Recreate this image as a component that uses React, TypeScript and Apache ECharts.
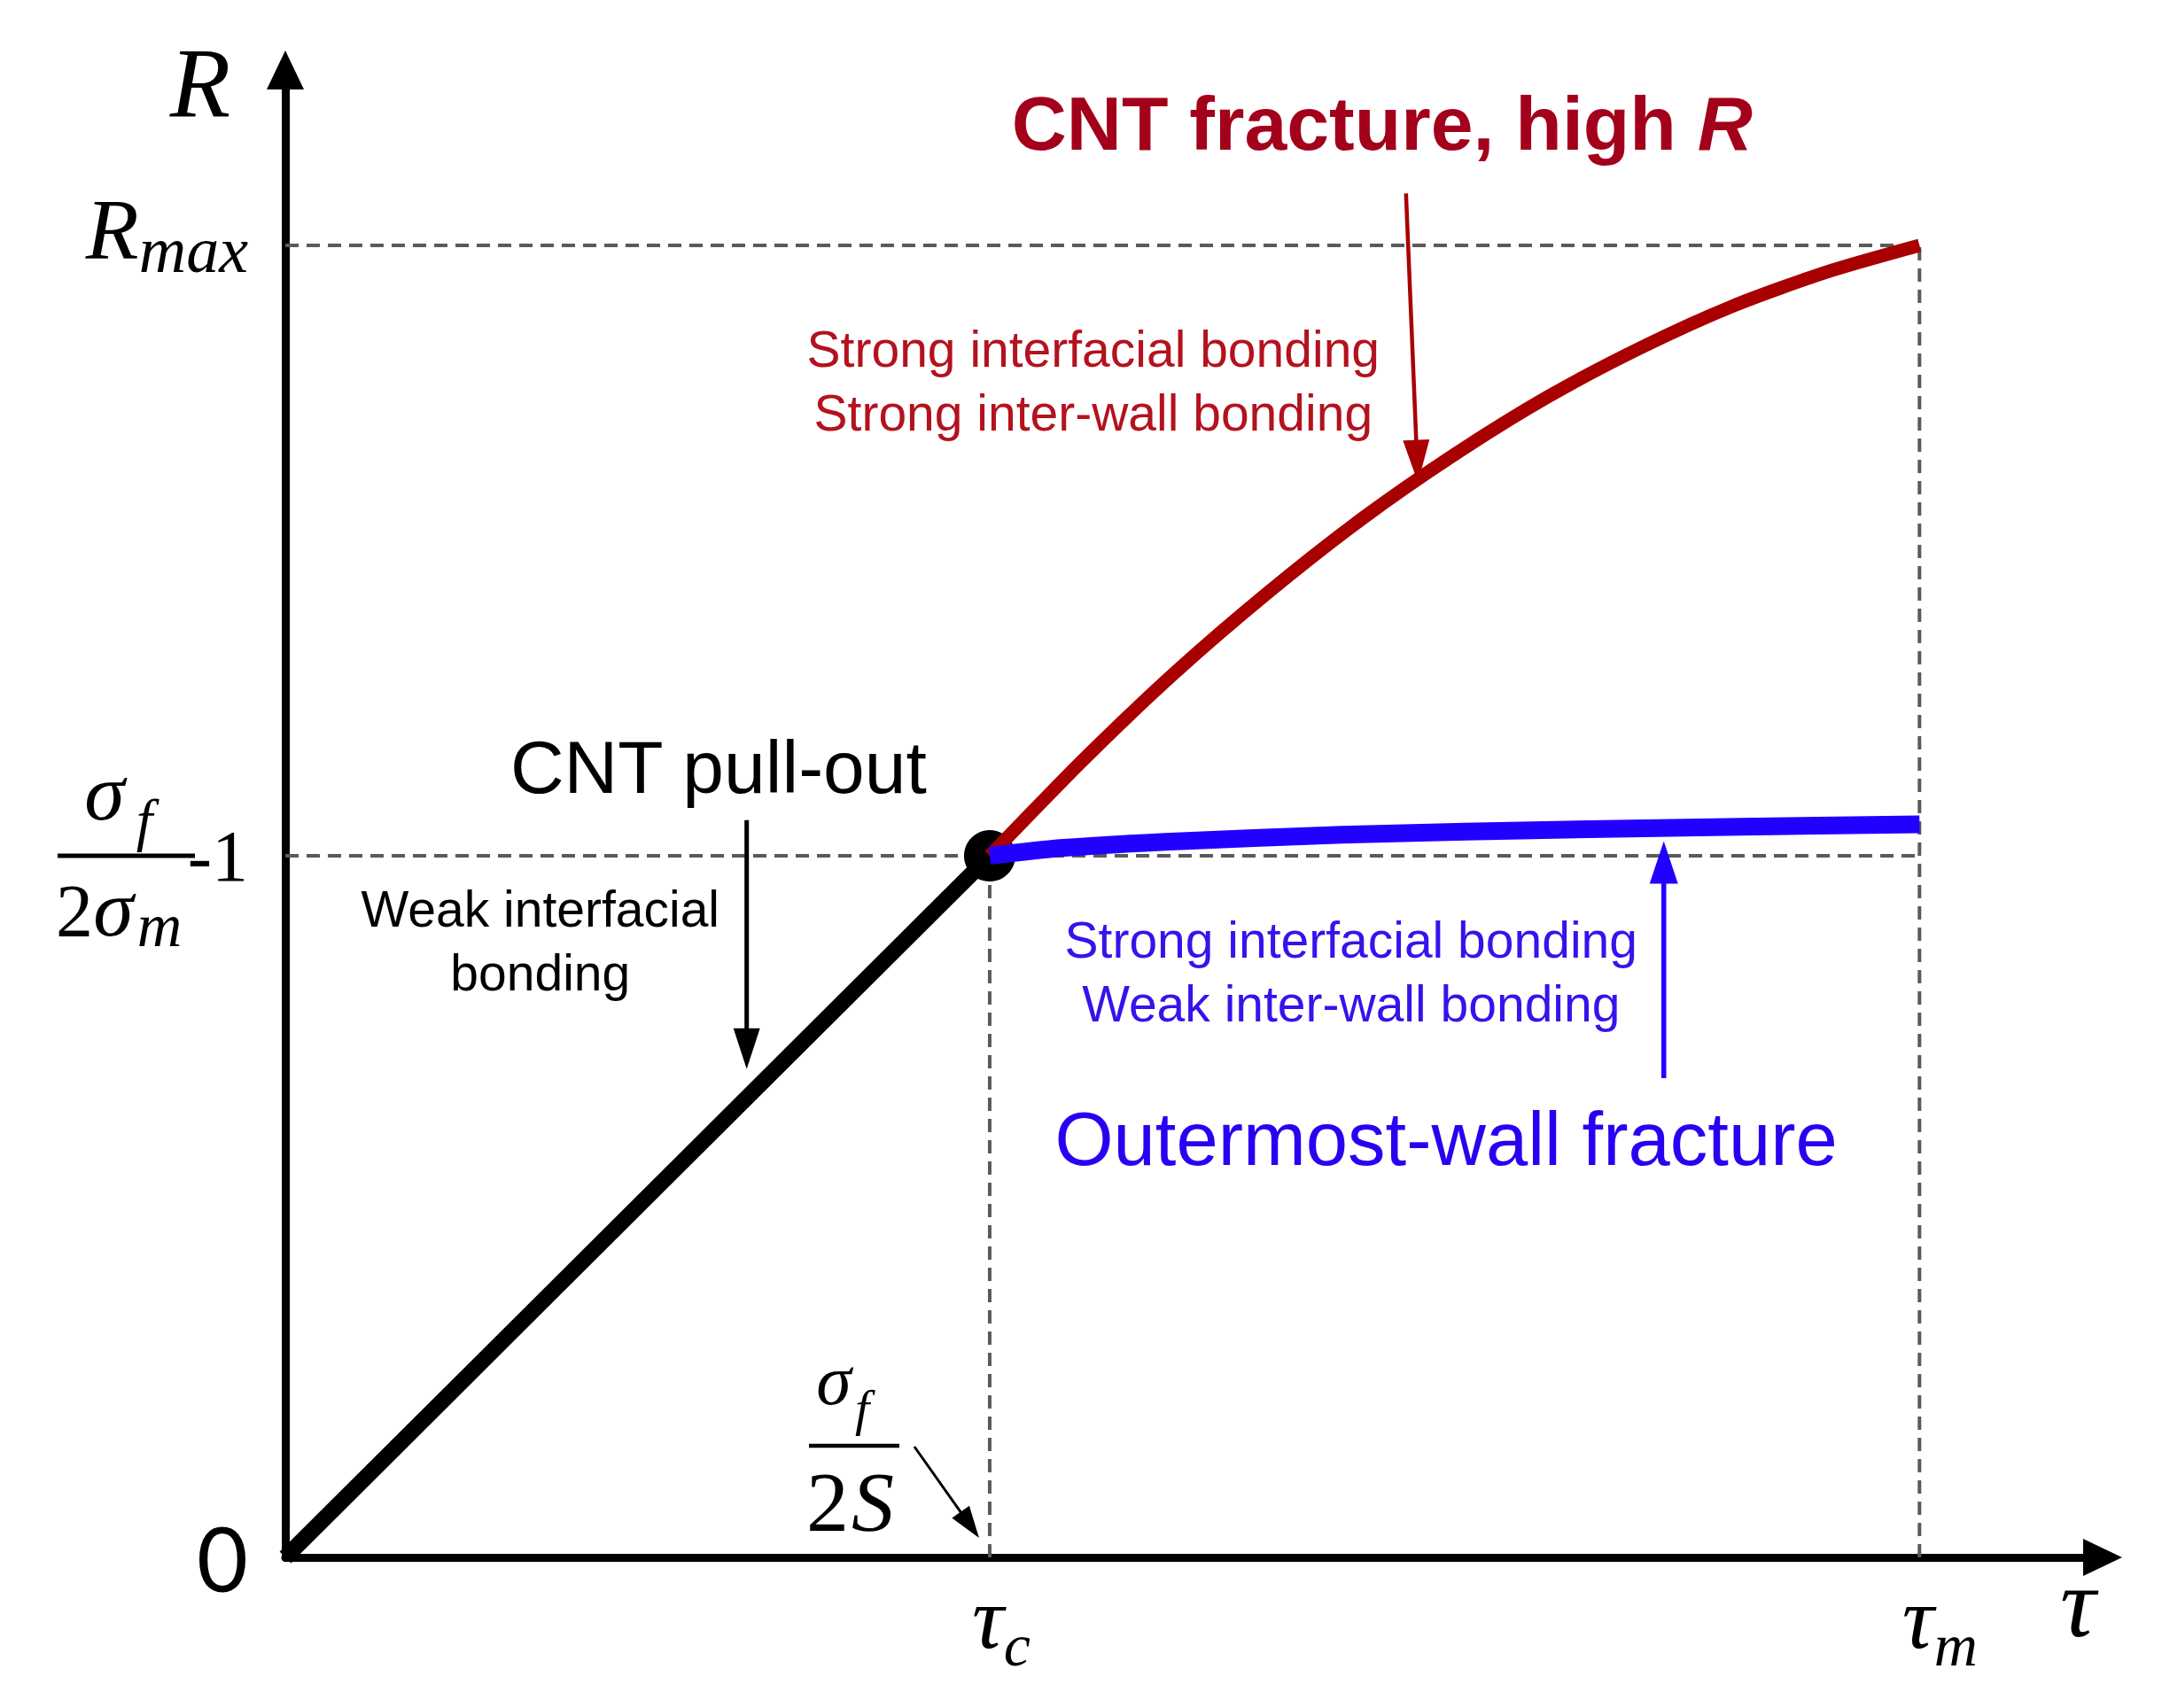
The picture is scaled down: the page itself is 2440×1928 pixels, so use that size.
import React, { useEffect, useRef } from "react";
import * as echarts from "echarts";

// ---- Key values (axis units: tau scaled so tau_c = 1, R scaled so sigma_f/2sigma_m - 1 = 1)
const TAU_C = 1;
const TAU_M = 2.32;
const R_MID = 1;
const R_MAX = 1.87;
const X_END = 2.58;
const Y_END = 2.12;

// ---- Curves
const pulloutTau = [0, 1];
const pulloutR = [0, 1];

const fractureTau = [1, 1.132, 1.264, 1.396, 1.528, 1.66, 1.792, 1.924, 2.056, 2.188, 2.32];
const fractureR = [1, 1.136, 1.262, 1.376, 1.48, 1.572, 1.654, 1.724, 1.784, 1.832, 1.87];

const outerTau = [1, 1.1, 1.25, 1.5, 1.85, 2.32];
const outerR = [1, 1.011, 1.02, 1.03, 1.038, 1.045];

// ---- Tick labels
const xTickValues = [TAU_C, TAU_M];
const xTickSubs = ["c", "m"];
const yTickValues = [0, R_MID, R_MAX];

const zip = (xs: number[], ys: number[]) => xs.map((x, i) => [x, ys[i]]);

const SERIF = '"Liberation Serif", "DejaVu Serif", serif';
const SANS = '"Liberation Sans", Arial, sans-serif';

export default function App() {
  const ref = useRef<HTMLDivElement>(null);

  useEffect(() => {
    document.body.style.margin = "0";
    const chart = echarts.init(ref.current!, null, { renderer: "svg" });
    const dash = { color: "#5a5a5a", width: 4, type: [15, 9] as any };
    const guide = (name: string, pts: number[][]) => ({
      type: "line",
      name,
      data: pts,
      showSymbol: false,
      symbol: "none",
      lineStyle: dash,
      silent: true,
      clip: false,
      z: 1,
    });

    chart.setOption({
      animation: false,
      backgroundColor: "#ffffff",
      grid: { left: 322, right: 67, top: 79, bottom: 170, containLabel: false, outerBoundsMode: "none" },
      xAxis: {
        type: "value",
        min: 0,
        max: X_END,
        splitLine: { show: false },
        axisTick: { show: false },
        axisLine: {
          show: true,
          lineStyle: { color: "#000", width: 9 },
          symbol: ["none", "triangle"],
          symbolSize: [42, 44],
        },
        axisLabel: {
          show: true,
          customValues: xTickValues,
          margin: 68,
          verticalAlign: "middle",
          formatter: (v: number) => {
            const i = xTickValues.findIndex((t) => Math.abs(t - v) < 1e-6);
            if (i < 0) return "";
            return `{t${i}|τ}{s|${xTickSubs[i]}}`;
          },
          rich: {
            t0: { fontFamily: SERIF, fontStyle: "italic", fontSize: 100, color: "#000", padding: [0, 0, 0, 26] },
            t1: { fontFamily: SERIF, fontStyle: "italic", fontSize: 100, color: "#000", padding: [0, 0, 0, 46] },
            s: { fontFamily: SERIF, fontStyle: "italic", fontSize: 68, color: "#000", padding: [62, 0, 0, 0] },
          },
        },
      },
      yAxis: {
        type: "value",
        min: 0,
        max: Y_END,
        splitLine: { show: false },
        axisTick: { show: false },
        axisLine: {
          show: true,
          lineStyle: { color: "#000", width: 9 },
          symbol: ["none", "triangle"],
          symbolSize: [42, 44],
        },
        axisLabel: {
          show: true,
          customValues: yTickValues,
          margin: 42,
          formatter: (v: number) => {
            if (Math.abs(v) < 1e-6) return "{z|0}";
            if (Math.abs(v - R_MID) < 1e-6) return "{n|-1}";
            if (Math.abs(v - R_MAX) < 1e-6) return "{R|R}{sub|max}";
            return "";
          },
          rich: {
            z: { fontFamily: "Lato, 'Open Sans', sans-serif", fontSize: 100, color: "#000" },
            n: { fontFamily: SERIF, fontSize: 82, color: "#000" },
            R: { fontFamily: SERIF, fontStyle: "italic", fontSize: 98, color: "#000", padding: [0, 0, 36, 0] },
            sub: { fontFamily: SERIF, fontStyle: "italic", fontSize: 74, color: "#000", padding: [10, 0, 0, 0] },
          },
        },
      },
      series: [
        guide("Rmax guide", [[0, R_MAX], [TAU_M, R_MAX]]),
        guide("mid guide", [[0, R_MID], [TAU_M, R_MID]]),
        guide("tau_c guide", [[TAU_C, 0], [TAU_C, R_MID]]),
        guide("tau_m guide", [[TAU_M, 0], [TAU_M, R_MAX]]),
        {
          type: "line",
          name: "CNT pull-out",
          data: zip(pulloutTau, pulloutR),
          showSymbol: false,
          symbol: "none",
          lineStyle: { color: "#000", width: 18 },
          silent: true,
          clip: false,
          z: 3,
        },
        {
          type: "scatter",
          name: "transition",
          data: [[TAU_C, R_MID]],
          symbol: "circle",
          symbolSize: 58,
          itemStyle: { color: "#000", opacity: 1 },
          silent: true,
          z: 4,
        },
        {
          type: "line",
          name: "CNT fracture",
          data: zip(fractureTau, fractureR),
          smooth: 0.25,
          showSymbol: false,
          symbol: "none",
          lineStyle: { color: "#a80000", width: 15 },
          silent: true,
          clip: false,
          z: 5,
        },
        {
          type: "line",
          name: "Outermost-wall fracture",
          data: zip(outerTau, outerR),
          smooth: 0.25,
          showSymbol: false,
          symbol: "none",
          lineStyle: { color: "#2200ff", width: 20 },
          silent: true,
          clip: false,
          z: 5,
        },
      ],
    });

    const P = (x: number, y: number) => chart.convertToPixel({ gridIndex: 0 }, [x, y]) as number[];

    const txt = (x: number, y: number, text: string, st: any) => ({
      type: "text",
      x,
      y,
      silent: true,
      z: 100,
      style: {
        text,
        align: "center",
        verticalAlign: "middle",
        textAlign: "center",
        textVerticalAlign: "middle",
        fill: "#000",
        ...st,
      },
    });

    const arrow = (from: number[], to: number[], color: string, width: number, headW: number, headL: number) => {
      const dx = to[0] - from[0];
      const dy = to[1] - from[1];
      const len = Math.hypot(dx, dy);
      const ux = dx / len;
      const uy = dy / len;
      const bx = to[0] - ux * headL;
      const by = to[1] - uy * headL;
      const nx = -uy;
      const ny = ux;
      return [
        {
          type: "line",
          silent: true,
          z: 50,
          shape: { x1: from[0], y1: from[1], x2: bx + ux * 2, y2: by + uy * 2 },
          style: { stroke: color, lineWidth: width },
        },
        {
          type: "polygon",
          silent: true,
          z: 50,
          shape: {
            points: [
              [to[0], to[1]],
              [bx + (nx * headW) / 2, by + (ny * headW) / 2],
              [bx - (nx * headW) / 2, by - (ny * headW) / 2],
            ],
          },
          style: { fill: color },
        },
      ];
    };

    const serifI = (size: number) => ({ fontFamily: SERIF, fontStyle: "italic", fontSize: size });
    const serif = (size: number) => ({ fontFamily: SERIF, fontSize: size });

    const A = P(0, R_MID); // y fraction anchor
    const B = P(TAU_C, 0); // sigma_f / 2S anchor
    const top = P(0, Y_END);
    const right = P(X_END, 0);

    const pTitle = P(1.557, 2.044);
    const pRedSmall = P(1.147, 1.677);
    const pPull = P(0.615, 1.126);
    const pWeak = P(0.362, 0.879);
    const pBlueSmall = P(1.513, 0.835);
    const pOuter = P(1.648, 0.596);

    const graphic: any[] = [
      // axis names
      txt(top[0] - 96, top[1] + 14, "R", serifI(112)),
      txt(right[0] - 28, right[1] + 51, "τ", serifI(112)),
      // y fraction  sigma_f / 2 sigma_m
      txt(A[0] - 204, A[1] - 72, "σ", serifI(92)),
      txt(A[0] - 159, A[1] - 41, "f", serifI(66)),
      {
        type: "line",
        silent: true,
        z: 100,
        shape: { x1: A[0] - 257, y1: A[1], x2: A[0] - 102, y2: A[1] },
        style: { stroke: "#000", lineWidth: 5 },
      },
      txt(A[0] - 238, A[1] + 62, "2", serif(84)),
      txt(A[0] - 194, A[1] + 59, "σ", serifI(92)),
      txt(A[0] - 142, A[1] + 78, "m", serifI(70)),
      // sigma_f / 2S
      txt(B[0] - 176, B[1] - 200, "σ", serifI(80)),
      txt(B[0] - 144, B[1] - 169, "f", serifI(58)),
      {
        type: "line",
        silent: true,
        z: 100,
        shape: { x1: B[0] - 204, y1: B[1] - 126, x2: B[0] - 102, y2: B[1] - 126 },
        style: { stroke: "#000", lineWidth: 4.5 },
      },
      txt(B[0] - 183, B[1] - 63, "2", serif(96)),
      txt(B[0] - 132, B[1] - 63, "S", serifI(96)),
      ...arrow([B[0] - 85, B[1] - 125], [B[0] - 12, B[1] - 22], "#000", 3, 24, 36),
      // annotations
      {
        type: "text",
        x: pTitle[0],
        y: pTitle[1],
        silent: true,
        z: 100,
        style: {
          text: "{a|CNT fracture, high }{b|R}",
          align: "center",
          verticalAlign: "middle",
          textAlign: "center",
          textVerticalAlign: "middle",
          rich: {
            a: { fontFamily: SANS, fontWeight: "bold", fontSize: 86, fill: "#a3001b", color: "#a3001b" },
            b: { fontFamily: SANS, fontWeight: "bold", fontStyle: "italic", fontSize: 86, fill: "#a3001b", color: "#a3001b" },
          },
        },
      },
      txt(pRedSmall[0], pRedSmall[1], "Strong interfacial bonding\nStrong inter-wall bonding", {
        fontFamily: SANS,
        fontSize: 57,
        lineHeight: 72,
        fill: "#b3121e",
      }),
      ...arrow(P(1.591, 1.944), P(1.608, 1.532), "#a80000", 4.5, 30, 48),
      txt(pPull[0], pPull[1], "CNT pull-out", { fontFamily: SANS, fontSize: 84, fill: "#000" }),
      txt(pWeak[0], pWeak[1], "Weak interfacial\nbonding", {
        fontFamily: SANS,
        fontSize: 57,
        lineHeight: 72,
        fill: "#000",
      }),
      ...arrow(P(0.655, 1.051), P(0.655, 0.696), "#000", 5, 30, 46),
      txt(pBlueSmall[0], pBlueSmall[1], "Strong interfacial bonding\nWeak inter-wall bonding", {
        fontFamily: SANS,
        fontSize: 57,
        lineHeight: 72,
        fill: "#3414ec",
      }),
      txt(pOuter[0], pOuter[1], "Outermost-wall fracture", { fontFamily: SANS, fontSize: 85, fill: "#2a00f0" }),
      ...arrow(P(1.957, 0.683), P(1.957, 1.021), "#2200ff", 5.5, 32, 48),
    ];

    chart.setOption({ graphic });

    return () => chart.dispose();
  }, []);

  return <div ref={ref} style={{ width: 2440, height: 1928, display: "block" }} />;
}
